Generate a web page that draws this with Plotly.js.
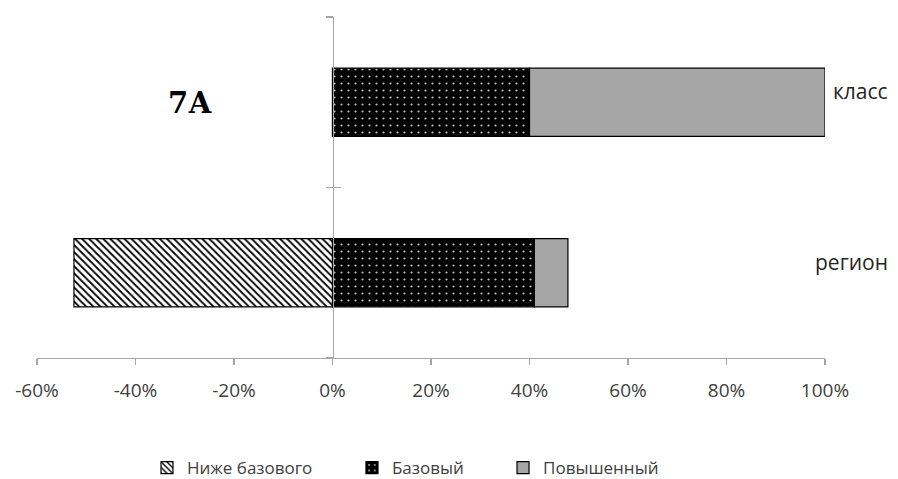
<!DOCTYPE html>
<html>
<head>
<meta charset="utf-8">
<script src="https://cdn.plot.ly/plotly-3.0.1.min.js"></script>
<style>
html,body{margin:0;padding:0;background:#fff;}
#chart{width:898px;height:479px;}
</style>
</head>
<body>
<div id="chart"></div>
<script>
// Data
var categories = ['регион', 'класс'];
var seriesNames = ['Ниже базового', 'Базовый', 'Повышенный'];
var belowBase = [-0.525, 0];
var base = [0.41, 0.40];
var advanced = [0.068, 0.60];
var xTickVals = [-0.6, -0.4, -0.2, 0, 0.2, 0.4, 0.6, 0.8, 1.0];
var xTickText = ['-60%', '-40%', '-20%', '0%', '20%', '40%', '60%', '80%', '100%'];
var chartTitle = '7А';

var xRange = [-0.6, 1.0];
var yAxisPos = (0 - xRange[0]) / (xRange[1] - xRange[0]);

var font = 'Open Sans, DejaVu Sans, sans-serif';
var lineStyle = {color: '#000000', width: 1.2};

var traces = [
  {
    type: 'bar', orientation: 'h', name: seriesNames[0],
    y: categories, x: belowBase, legend: 'legend',
    marker: {color: '#ffffff', line: lineStyle,
      pattern: {shape: '\\', fgcolor: '#000000', bgcolor: '#ffffff', size: 5, solidity: 0.35}},
    hoverinfo: 'none'
  },
  {
    type: 'bar', orientation: 'h', name: seriesNames[1],
    y: categories, x: base, legend: 'legend2',
    marker: {color: '#000000', line: lineStyle,
      pattern: {shape: '.', fgcolor: '#bdbdbd', bgcolor: '#000000', size: 7, solidity: 0.08}},
    hoverinfo: 'none'
  },
  {
    type: 'bar', orientation: 'h', name: seriesNames[2],
    y: categories, x: advanced, legend: 'legend3',
    marker: {color: '#a6a6a6', line: lineStyle},
    hoverinfo: 'none'
  }
];

var legendCommon = {
  orientation: 'h', yref: 'paper', y: -0.323, yanchor: 'middle', xanchor: 'left',
  font: {family: font, size: 17, color: '#404040'}, bgcolor: 'rgba(0,0,0,0)'
};

var annotations = [
  {xref: 'paper', yref: 'paper', x: 0.194, y: 0.748, xanchor: 'center', yanchor: 'middle',
   text: '<b>' + chartTitle + '</b>',
   showarrow: false, font: {family: 'DejaVu Serif, Liberation Serif, serif', size: 29, color: '#000000'}},
];
categories.forEach(function (c) {
  annotations.push({xref: 'paper', yref: 'y', x: 1.0825, y: c, yshift: 11, text: c,
    xanchor: 'right', showarrow: false, font: {family: font, size: 21, color: '#262626'}});
});

var layout = {
  width: 898, height: 479,
  margin: {l: 37, r: 73, t: 17, b: 121, autoexpand: false},
  paper_bgcolor: '#ffffff', plot_bgcolor: '#ffffff',
  barmode: 'relative', bargap: 0.6,
  showlegend: true,
  xaxis: {
    range: xRange, tickvals: xTickVals, ticktext: xTickText,
    showgrid: false, zeroline: false,
    showline: true, linecolor: '#a6a6a6', linewidth: 1.3,
    ticks: 'outside', ticklen: 6, tickcolor: '#a6a6a6', tickwidth: 1.3,
    ticklabelstandoff: 9,
    tickfont: {family: font, size: 19, color: '#404040'}, fixedrange: true
  },
  yaxis: {
    type: 'category', categoryorder: 'array', categoryarray: categories,
    range: [-0.5, 1.5], anchor: 'free', position: yAxisPos,
    showline: true, linecolor: '#a6a6a6', linewidth: 1.5,
    ticks: 'outside', tickson: 'boundaries', ticklen: 7, tickcolor: '#a6a6a6', tickwidth: 1.5,
    showticklabels: false, showgrid: false, zeroline: false, fixedrange: true
  },
  yaxis2: {
    overlaying: 'y', anchor: 'free', position: yAxisPos, range: [-0.5, 1.5],
    tick0: -0.5, dtick: 1, ticks: 'inside', ticklen: 7, tickcolor: '#a6a6a6', tickwidth: 1.5,
    showline: false, showticklabels: false, showgrid: false, zeroline: false, fixedrange: true
  },
  legend: Object.assign({}, legendCommon, {x: 0.1396}),
  legend2: Object.assign({}, legendCommon, {x: 0.3997}),
  legend3: Object.assign({}, legendCommon, {x: 0.5914}),
  annotations: annotations
};

// empty helper trace so the overlaid axis draws its inward ticks
traces.push({type: 'scatter', x: [null], y: [null], yaxis: 'y2', showlegend: false, hoverinfo: 'none'});

Plotly.newPlot('chart', traces, layout, {staticPlot: true, displayModeBar: false});
</script>
</body>
</html>
